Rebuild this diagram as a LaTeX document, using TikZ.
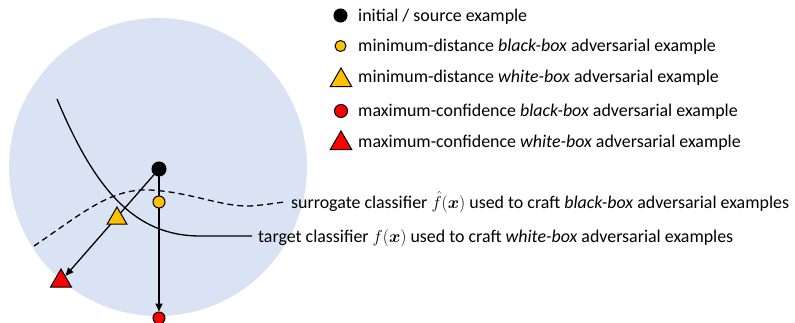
\documentclass[tikz,border=0pt]{standalone}
\usepackage{fontspec}
\setmainfont{Carlito}
\usepackage{amsmath}
\usetikzlibrary{shapes.geometric,arrows.meta}
\pgfdeclarelayer{back}
\pgfdeclarelayer{mid}
\pgfsetlayers{back,mid,main}
\definecolor{region}{HTML}{DAE3F3}
\definecolor{amber}{HTML}{FFC000}
\definecolor{crimson}{HTML}{FF0000}

\begin{document}
\begin{tikzpicture}[x=1pt,y=-1pt,
  font=\fontsize{17.9}{22}\selectfont,
  dot/.style={circle,draw=black,line width=1pt,inner sep=0pt,minimum size=#1},
  tri/.style={regular polygon,regular polygon sides=3,draw=black,line width=1pt,inner sep=0pt,minimum size=#1},
  legendtext/.style={anchor=base west,inner sep=0pt},
  pointer/.style={line width=1.3pt,-{Triangle[length=8pt,width=7pt]}},
  boundary/.style={line width=1.3pt},
  surrogate/.style={boundary,dash pattern=on 6pt off 4pt}]
\useasboundingbox (0,0) rectangle (795,323);

% input region
\begin{pgfonlayer}{back}
  \fill[region] (158,167) circle[radius=149];
\end{pgfonlayer}

% examples
\node[dot=14pt,fill=black]   (src) at (159,169) {};
\node[dot=12pt,fill=amber]   (mdb) at (159,202) {};
\node[dot=12pt,fill=crimson] (mcb) at (159,318) {};
\node[tri=23pt,fill=amber]   (mdw) at (117,218.5) {};
\node[tri=24pt,fill=crimson] (mcw) at (61,281) {};

% decision boundaries and attack directions
\coordinate (tgtend) at (252,236);
\coordinate (surend) at (285,202);
\begin{pgfonlayer}{mid}
  \draw[boundary] (57,99) .. controls (95,190) and (135,236) .. (200,236) -- (tgtend);
  \draw[surrogate] (34,246) .. controls (80,215) and (110,188) .. (150,190)
     .. controls (190,192) and (222,207) .. (250,206)
     .. controls (265,205) and (275,203) .. (surend);
  \draw[pointer] (src) -- (mcw);
  \draw[pointer] (src) -- (mcb);
\end{pgfonlayer}

\node[legendtext] (surtext) at (291,208.5) {surrogate classifier $\hat{f}(\boldsymbol{x})$ used to craft \textit{black-box} adversarial examples};
\node[legendtext] (tgttext) at (258,242) {target classifier $f(\boldsymbol{x})$ used to craft \textit{white-box} adversarial examples};

% legend
\node[dot=13pt,fill=black]   (k1) at (340.5,15.5) {};
\node[dot=11pt,fill=amber]   (k2) at (340.5,46) {};
\node[tri=25pt,fill=amber]   (k3) at (341,80.5) {};
\node[dot=13pt,fill=crimson] (k4) at (341,111) {};
\node[tri=25pt,fill=crimson] (k5) at (341,143.5) {};

\node[legendtext] (t1) at (358,21.5)  {initial / source example};
\node[legendtext] (t2) at (358,52)    {minimum-distance \textit{black-box} adversarial example};
\node[legendtext] (t3) at (358,83)    {minimum-distance \textit{white-box} adversarial example};
\node[legendtext] (t4) at (358,117)   {maximum-confidence \textit{black-box} adversarial example};
\node[legendtext] (t5) at (358,147.5) {maximum-confidence \textit{white-box} adversarial example};
\end{tikzpicture}
\end{document}
